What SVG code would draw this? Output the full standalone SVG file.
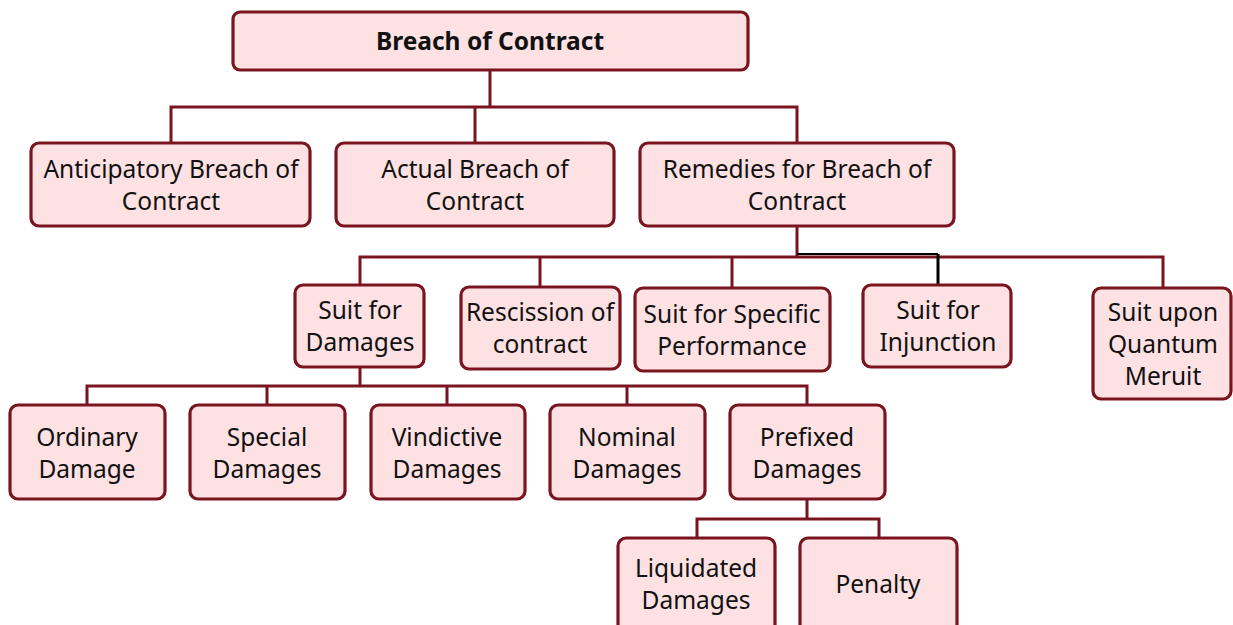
<svg xmlns="http://www.w3.org/2000/svg" width="1233" height="625" viewBox="0 0 1233 625">
<style>
.box{fill:#fde1e3;stroke:#7a1520;stroke-width:3.2}
.t{font-family:"Noto Sans","Open Sans",sans-serif;font-size:24.5px;fill:#111;text-anchor:middle}
.b{font-weight:bold;font-size:24.5px}
.c{fill:none;stroke:#7a1520;stroke-width:3}
.k{fill:none;stroke:#000;stroke-width:2}
</style>
<rect width="1233" height="625" fill="#fff"/>
<g id="connectors">
<path class="c" d="M490 70V107M171 143V107H797V143M475 107V143"/>
<path class="c" d="M797 226V257M360 285V257H1163V288M540 257V287M732 257V287"/>
<path class="k" d="M797 254H938"/>
<path class="k" d="M938 254V285" style="stroke-width:3"/>
<path class="c" d="M360 367V386M87 405V386H807V405M267 386V405M447 386V405M627 386V405"/>
<path class="c" d="M807 499V519M697 538V519H879V538"/>
</g>
<g id="n-root"><rect class="box" x="233" y="12" width="515" height="58" rx="7"/><text class="t b" x="490" y="50">Breach of Contract</text></g>
<g id="n-anticipatory"><rect class="box" x="31" y="143" width="279" height="83" rx="8"/><text class="t" x="171" y="178">Anticipatory Breach of</text><text class="t" x="171" y="210">Contract</text></g>
<g id="n-actual"><rect class="box" x="336" y="143" width="278" height="83" rx="8"/><text class="t" x="475" y="178">Actual Breach of</text><text class="t" x="475" y="210">Contract</text></g>
<g id="n-remedies"><rect class="box" x="640" y="143" width="314" height="83" rx="8"/><text class="t" x="797" y="178">Remedies for Breach of</text><text class="t" x="797" y="210">Contract</text></g>
<g id="n-damages"><rect class="box" x="295" y="285" width="129" height="82" rx="8"/><text class="t" x="360" y="319">Suit for</text><text class="t" x="360" y="351">Damages</text></g>
<g id="n-rescission"><rect class="box" x="461" y="287" width="159" height="82" rx="8"/><text class="t" x="540" y="321">Rescission of</text><text class="t" x="540" y="353">contract</text></g>
<g id="n-specific"><rect class="box" x="635" y="288" width="195" height="83" rx="8"/><text class="t" x="732" y="323">Suit for Specific</text><text class="t" x="732" y="355">Performance</text></g>
<g id="n-injunction"><rect class="box" x="863" y="285" width="148" height="82" rx="8"/><text class="t" x="938" y="319">Suit for</text><text class="t" x="938" y="351">Injunction</text></g>
<g id="n-quantum"><rect class="box" x="1093" y="288" width="138" height="111" rx="8"/><text class="t" x="1163" y="321">Suit upon</text><text class="t" x="1163" y="353">Quantum</text><text class="t" x="1163" y="385">Meruit</text></g>
<g id="n-ordinary"><rect class="box" x="10" y="405" width="155" height="94" rx="8"/><text class="t" x="87" y="446">Ordinary</text><text class="t" x="87" y="478">Damage</text></g>
<g id="n-special"><rect class="box" x="190" y="405" width="155" height="94" rx="8"/><text class="t" x="267" y="446">Special</text><text class="t" x="267" y="478">Damages</text></g>
<g id="n-vindictive"><rect class="box" x="371" y="405" width="154" height="94" rx="8"/><text class="t" x="447" y="446">Vindictive</text><text class="t" x="447" y="478">Damages</text></g>
<g id="n-nominal"><rect class="box" x="550" y="405" width="155" height="94" rx="8"/><text class="t" x="627" y="446">Nominal</text><text class="t" x="627" y="478">Damages</text></g>
<g id="n-prefixed"><rect class="box" x="730" y="405" width="155" height="94" rx="8"/><text class="t" x="807" y="446">Prefixed</text><text class="t" x="807" y="478">Damages</text></g>
<g id="n-liquidated"><rect class="box" x="618" y="538" width="157" height="96" rx="8"/><text class="t" x="696" y="577">Liquidated</text><text class="t" x="696" y="609">Damages</text></g>
<g id="n-penalty"><rect class="box" x="800" y="538" width="157" height="96" rx="8"/><text class="t" x="878" y="593">Penalty</text></g>
</svg>
